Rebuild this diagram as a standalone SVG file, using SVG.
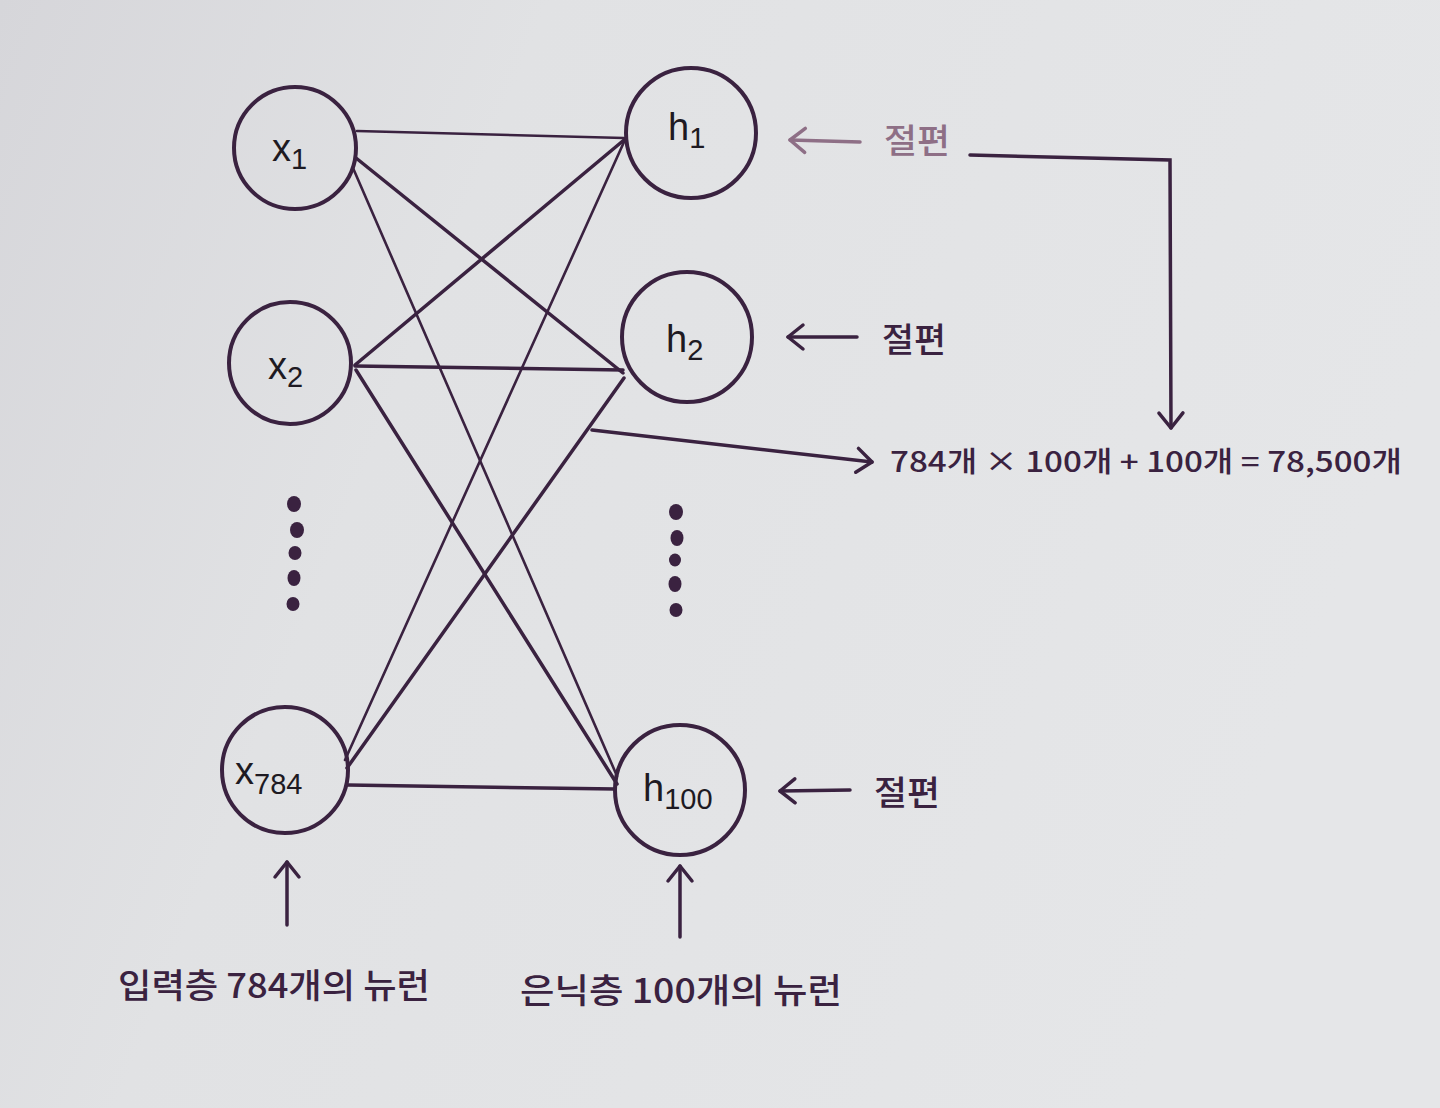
<svg xmlns="http://www.w3.org/2000/svg" width="1440" height="1108" viewBox="0 0 1440 1108">
<defs>
<linearGradient id="bg" x1="0" y1="0" x2="1" y2="0.3">
<stop offset="0" stop-color="#d6d6da"/>
<stop offset="0.35" stop-color="#e1e2e4"/>
<stop offset="1" stop-color="#e5e6e8"/>
</linearGradient>
<marker id="ah" viewBox="0 0 30 30" refX="27" refY="15" markerWidth="30" markerHeight="30" markerUnits="userSpaceOnUse" orient="auto">
<path d="M12,3 L27,15 L12,27" fill="none" stroke="#3a2240" stroke-width="3.5" stroke-linecap="round" stroke-linejoin="round"/>
</marker>
<marker id="ahf" viewBox="0 0 30 30" refX="27" refY="15" markerWidth="30" markerHeight="30" markerUnits="userSpaceOnUse" orient="auto">
<path d="M12,3 L27,15 L12,27" fill="none" stroke="#8e6f86" stroke-width="3.5" stroke-linecap="round" stroke-linejoin="round"/>
</marker>
</defs>
<style>
.node{fill:none;stroke:#3a2240;stroke-width:4}
.lbl{font-family:"Liberation Sans",Arial,sans-serif;fill:#1e1a22}
.main{font-size:38px}
.sub{font-size:29px}
.edge{stroke:#3a2240;stroke-width:3.5;fill:none;stroke-linecap:round}
.thin{stroke-width:2.6}
.kr{font-family:"Noto Sans CJK KR","Noto Sans",sans-serif;fill:#3a2240;font-weight:500}
.arr{stroke:#3a2240;stroke-width:3.5;fill:none;stroke-linecap:round;marker-end:url(#ah)}
.dot{fill:#3a2240}
</style>
<rect width="1440" height="1108" fill="url(#bg)"/>

<g id="connectors">
<line class="edge thin" x1="357" y1="131" x2="624" y2="138"/>
<line class="edge" x1="356" y1="158" x2="623" y2="373"/>
<line class="edge thin" x1="353" y1="168" x2="617" y2="776"/>
<line class="edge" x1="355" y1="365" x2="624" y2="140"/>
<line class="edge" x1="355" y1="366" x2="623" y2="370"/>
<line class="edge" x1="356" y1="370" x2="617" y2="784"/>
<line class="edge thin" x1="345" y1="760" x2="624" y2="142"/>
<line class="edge" x1="347" y1="768" x2="624" y2="378"/>
<line class="edge" x1="348" y1="785" x2="615" y2="789"/>
<line class="arr" x1="592" y1="430" x2="872" y2="462"/>
<polyline class="arr" points="970,155 1170,160 1171,428"/>
<line class="arr" x1="860" y1="142" x2="790" y2="140" style="stroke:#8e6f86;marker-end:url(#ahf)"/>
<line class="arr" x1="857" y1="337" x2="788" y2="337"/>
<line class="arr" x1="850" y1="790" x2="780" y2="791"/>
<line class="arr" x1="287" y1="925" x2="287" y2="862"/>
<line class="arr" x1="680" y1="937" x2="680" y2="866"/>
</g>

<g id="node-x1">
<circle class="node" cx="295" cy="148" r="61"/>
<text class="lbl" x="272" y="161"><tspan class="main">x</tspan><tspan class="sub" dy="8">1</tspan></text>
</g>
<g id="node-x2">
<circle class="node" cx="290" cy="363" r="61"/>
<text class="lbl" x="268" y="379"><tspan class="main">x</tspan><tspan class="sub" dy="8">2</tspan></text>
</g>
<g id="node-x784">
<circle class="node" cx="285" cy="770" r="63"/>
<text class="lbl" x="235" y="784"><tspan class="main">x</tspan><tspan class="sub" dy="10">784</tspan></text>
</g>
<g id="node-h1">
<circle class="node" cx="691" cy="133" r="65"/>
<text class="lbl" x="668" y="140"><tspan class="main">h</tspan><tspan class="sub" dy="8">1</tspan></text>
</g>
<g id="node-h2">
<circle class="node" cx="687" cy="337" r="65"/>
<text class="lbl" x="666" y="352"><tspan class="main">h</tspan><tspan class="sub" dy="8">2</tspan></text>
</g>
<g id="node-h100">
<circle class="node" cx="680" cy="790" r="65"/>
<text class="lbl" x="643" y="801"><tspan class="main">h</tspan><tspan class="sub" dy="8">100</tspan></text>
</g>

<g id="dots-input">
<ellipse class="dot" cx="294" cy="504" rx="7" ry="8"/>
<ellipse class="dot" cx="297" cy="530" rx="7" ry="8"/>
<ellipse class="dot" cx="295" cy="553" rx="6.5" ry="7"/>
<ellipse class="dot" cx="294" cy="578" rx="6.5" ry="8"/>
<ellipse class="dot" cx="293" cy="604" rx="6.5" ry="7"/>
</g>
<g id="dots-hidden">
<ellipse class="dot" cx="676" cy="512" rx="7" ry="8"/>
<ellipse class="dot" cx="677" cy="538" rx="6.5" ry="8"/>
<ellipse class="dot" cx="675" cy="560" rx="6" ry="6.5"/>
<ellipse class="dot" cx="675" cy="584" rx="6.5" ry="8"/>
<ellipse class="dot" cx="676" cy="610" rx="6.5" ry="7"/>
</g>

<g id="labels">
<text class="kr" x="884" y="153" font-size="34" style="fill:#8e6f86" textLength="66" lengthAdjust="spacingAndGlyphs">절편</text>
<text class="kr" x="882" y="352" font-size="34" textLength="64" lengthAdjust="spacingAndGlyphs">절편</text>
<text class="kr" x="874" y="805" font-size="34" textLength="66" lengthAdjust="spacingAndGlyphs">절편</text>
<text class="kr" x="890" y="472" font-size="28" textLength="512" lengthAdjust="spacingAndGlyphs">784개 × 100개 + 100개 = 78,500개</text>
<text class="kr" x="118" y="998" font-size="34" textLength="312" lengthAdjust="spacingAndGlyphs">입력층 784개의 뉴런</text>
<text class="kr" x="520" y="1003" font-size="34" textLength="322" lengthAdjust="spacingAndGlyphs">은닉층 100개의 뉴런</text>
</g>
</svg>
